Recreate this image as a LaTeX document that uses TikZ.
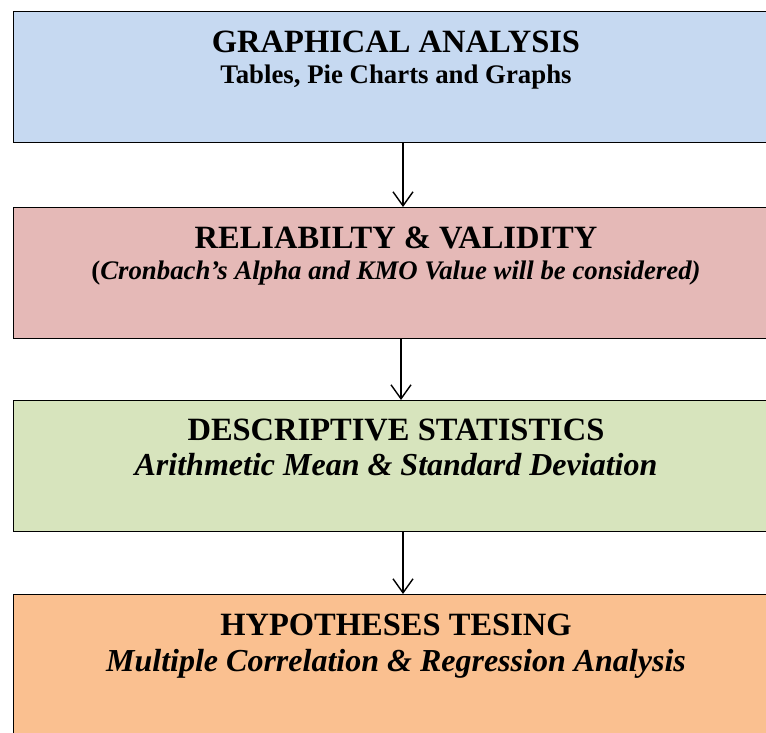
\documentclass[tikz,border=0pt]{standalone}
\usepackage{fontspec}
\setmainfont{Liberation Serif}
\usetikzlibrary{arrows.meta}
\definecolor{boxblue}{HTML}{C6D9F1}
\definecolor{boxpink}{HTML}{E5B9B7}
\definecolor{boxgreen}{HTML}{D7E4BD}
\definecolor{boxorange}{HTML}{FAC090}
\tikzset{
  stagebox/.style={draw=black, line width=1.3pt, rectangle, anchor=north west,
    minimum width=766pt, minimum height=131pt, inner sep=0pt},
  headline/.style={font=\bfseries\fontsize{32.5}{36}\selectfont, inner sep=0pt, anchor=base},
  subline/.style={font=\bfseries\fontsize{26.8}{30}\selectfont, inner sep=0pt, anchor=base},
  subitalic/.style={font=\bfseries\itshape\fontsize{32}{36}\selectfont, inner sep=0pt, anchor=base},
  flow/.style={draw=black, line width=1.4pt, -{Straight Barb[length=14pt,width=20pt,line width=1.4pt]}}
}
\begin{document}
\begin{tikzpicture}[x=1pt,y=-1pt]
\useasboundingbox (0,0) rectangle (766,733);
\begin{scope}
\clip (0,0) rectangle (766,733);
\node[stagebox, fill=boxblue]   (b1) at (13,11)  {};
\node[stagebox, fill=boxpink]   (b2) at (13,207) {};
\node[stagebox, fill=boxgreen]  (b3) at (13,400) {};
\node[stagebox, fill=boxorange, minimum height=160pt] (b4) at (13,594) {};
\end{scope}

\node[headline] (t1) at (396,52.5) {GRAPHICAL ANALYSIS};
\node[subline]  (s1) at (396,83.5) {Tables, Pie Charts and Graphs};

\node[headline] (t2) at (396,248) {RELIABILTY \& VALIDITY};
\node[subline]  (s2) at (396,279.5) {(\textit{Cronbach’s Alpha and KMO Value will be considered)}};

\node[headline] (t3) at (396,440.5) {DESCRIPTIVE STATISTICS};
\node[subitalic] (s3) at (396,475) {Arithmetic Mean \& Standard Deviation};

\node[headline] (t4) at (396,635.5) {HYPOTHESES TESING};
\node[subitalic] (s4) at (396,671.5) {Multiple Correlation \& Regression Analysis};

\draw[flow] (b1.south -| 403,0) -- (b2.north -| 403,0);
\draw[flow] (b2.south -| 401,0) -- (b3.north -| 401,0);
\draw[flow] (b3.south -| 403,0) -- (b4.north -| 403,0);
\end{tikzpicture}
\end{document}
